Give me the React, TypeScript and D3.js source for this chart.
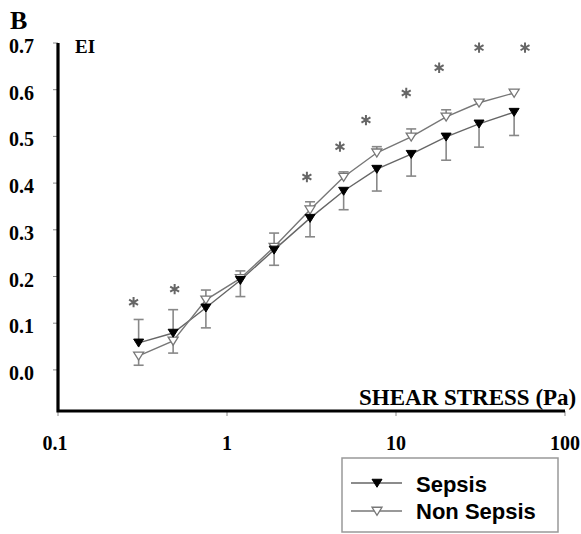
import * as d3 from 'd3'

const W = 581, H = 534

// shear stress (Pa) and elongation index
const shear = [0.3, 0.48, 0.75, 1.2, 1.9, 3.1, 4.9, 7.7, 12.3, 19.8, 31, 50]
const sepsis = [0.058, 0.079, 0.133, 0.192, 0.257, 0.325, 0.383, 0.43, 0.462, 0.499, 0.527, 0.552]
const sepsisErr = [0.05, 0.05, 0.043, 0.035, 0.033, 0.04, 0.04, 0.047, 0.047, 0.05, 0.05, 0.05]
const nonSepsis = [0.03, 0.062, 0.15, 0.196, 0.263, 0.343, 0.413, 0.465, 0.499, 0.542, 0.572, 0.593]
const nonSepsisErr = [0.02, 0.026, 0.021, 0.016, 0.03, 0.017, 0.011, 0.013, 0.017, 0.015, 0.005, 0.006]

// significance marks
const starShear = [0.28, 0.49, 2.97, 4.66, 6.64, 11.5, 18, 31, 58]
const starEI = [0.145, 0.173, 0.413, 0.478, 0.535, 0.593, 0.647, 0.69, 0.69]

const yTicks = [0, 0.1, 0.2, 0.3, 0.4, 0.5, 0.6, 0.7]
const xTicks = [0.1, 1, 10, 100]
const xTickLabels = ['0.1', '1', '10', '100']

const SERIF = '"Liberation Serif", "Times New Roman", serif'
const SANS = '"Liberation Sans", Arial, sans-serif'

const x = d3.scaleLog([0.1, 100], [58, 565])
const y = d3.scaleLinear([-0.088, 0.7], [411, 43])

const tri = (cx: number, cy: number, s = 5) =>
  `M${cx - s},${cy - s * 0.75}L${cx + s},${cy - s * 0.75}L${cx},${cy + s * 0.85}Z`

export default function App() {
  const line = d3.line<number>().x((_, i) => x(shear[i])).y((v) => y(v))
  const star = d3.symbol(d3.symbolAsterisk, 75)()

  const errBar = (i: number, v: number, e: number, up: boolean, key: string) => {
    const cx = x(shear[i])
    const y2 = y(up ? v + e : v - e)
    return (
      <g key={key} stroke="#888" strokeWidth={1.6}>
        <line x1={cx} x2={cx} y1={y(v)} y2={y2} />
        <line x1={cx - 5} x2={cx + 5} y1={y2} y2={y2} />
      </g>
    )
  }

  return (
    <svg width={W} height={H} style={{ position: 'absolute', left: 0, top: 0, background: '#fff' }}>
      <text x={10} y={29} fontFamily={SERIF} fontWeight="bold" fontSize={26}>B</text>
      <text x={75} y={53} fontFamily={SERIF} fontWeight="bold" fontSize={19}>EI</text>

      {/* y ticks */}
      {yTicks.map((t) => (
        <g key={t}>
          <line x1={53} x2={58} y1={y(t)} y2={y(t)} stroke="#888" strokeWidth={1} />
          <text x={34} y={y(t) + 10} textAnchor="end" fontFamily={SERIF} fontWeight="bold" fontSize={20}>
            {t.toFixed(1)}
          </text>
        </g>
      ))}

      {/* x ticks */}
      {xTicks.map((t, i) => (
        <g key={t}>
          <line x1={x(t)} x2={x(t)} y1={411} y2={416} stroke="#888" strokeWidth={1} />
          <text x={x(t) - (i === 0 ? 3 : 0)} y={450} textAnchor="middle" fontFamily={SERIF} fontWeight="bold" fontSize={20}>
            {xTickLabels[i]}
          </text>
        </g>
      ))}

      <path d={`M${x(0.1)},${y(0.7)}V${y(-0.088)}H${x(100)}`} fill="none" stroke="#000" strokeWidth={3.2} />
      <text x={359} y={405} fontFamily={SERIF} fontWeight="bold" fontSize={23}>SHEAR STRESS (Pa)</text>

      {/* lines */}
      <path d={line(sepsis) ?? ''} fill="none" stroke="#666" strokeWidth={1.4} />
      <path d={line(nonSepsis) ?? ''} fill="none" stroke="#777" strokeWidth={1.4} />

      {/* error bars, drawn away from the other series */}
      {sepsis.map((v, i) => errBar(i, v, sepsisErr[i], v > nonSepsis[i], 's' + i))}
      {nonSepsis.map((v, i) => errBar(i, v, nonSepsisErr[i], v >= sepsis[i], 'n' + i))}

      {/* markers */}
      {nonSepsis.map((v, i) => (
        <path key={'nm' + i} d={tri(x(shear[i]), y(v))} fill="#fff" stroke="#777" strokeWidth={1.3} />
      ))}
      {sepsis.map((v, i) => (
        <path key={'sm' + i} d={tri(x(shear[i]), y(v))} fill="#000" stroke="#000" strokeWidth={1} />
      ))}

      {/* asterisks */}
      {starShear.map((s, i) => (
        <path key={'st' + i} d={star ?? ''} transform={`translate(${x(s)},${y(starEI[i])})`}
          fill="none" stroke="#666" strokeWidth={2} />
      ))}

      {/* legend */}
      <rect x={342} y={458} width={216} height={74} fill="#fff" stroke="#999" strokeWidth={1.5} />
      <line x1={351} x2={402} y1={483} y2={483} stroke="#666" strokeWidth={1.4} />
      <path d={tri(377, 483)} fill="#000" stroke="#000" />
      <text x={416} y={492} fontFamily={SANS} fontWeight="bold" fontSize={22}>Sepsis</text>
      <line x1={351} x2={402} y1={511} y2={511} stroke="#777" strokeWidth={1.4} />
      <path d={tri(377, 511)} fill="#fff" stroke="#777" strokeWidth={1.3} />
      <text x={416} y={519} fontFamily={SANS} fontWeight="bold" fontSize={22}>Non Sepsis</text>
    </svg>
  )
}
